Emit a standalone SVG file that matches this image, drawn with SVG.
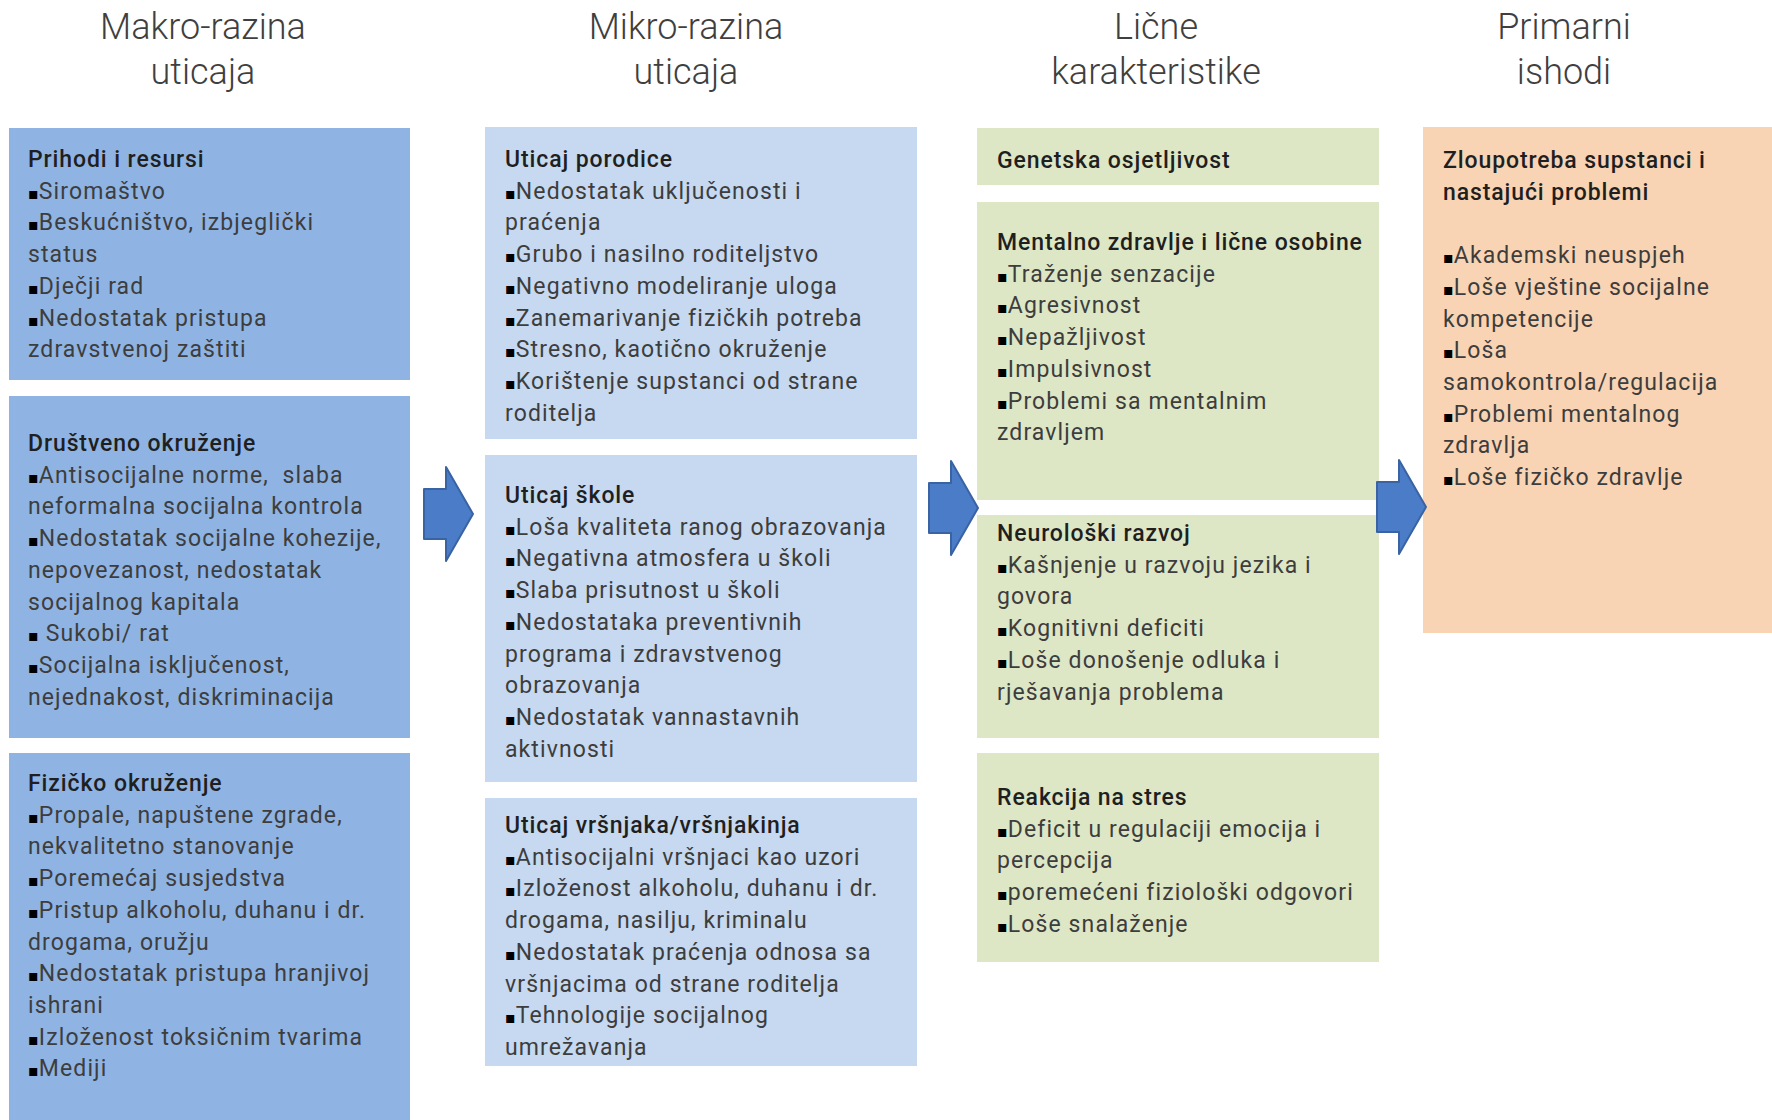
<svg xmlns="http://www.w3.org/2000/svg" width="1772" height="1120" viewBox="0 0 1772 1120">
<style>
.hdr{font-family:Roboto,"Liberation Sans",sans-serif;font-weight:300;font-size:36px;fill:#3f3f3f;text-anchor:middle}
.t{font-family:Roboto,"Liberation Sans",sans-serif;font-size:23px;fill:#3d3d3d;letter-spacing:1.1px}
.h{font-weight:500;fill:#1f1f1f;letter-spacing:0.9px}
.b{fill:#000;font-family:"DejaVu Sans",sans-serif;font-size:16px;letter-spacing:0}
.c1{fill:#8fb4e3}
.c2{fill:#c6d9f0}
.c3{fill:#dde7c6}
.c4{fill:#f9d4b4}
.arr{fill:#4a7cc7;stroke:#3a63a3;stroke-width:2;stroke-linejoin:round}
</style>
<rect width="1772" height="1120" fill="#fff"/>
<g id="headers">
<text class="hdr" x="203" y="39">Makro-razina</text>
<text class="hdr" x="203" y="84">uticaja</text>
<text class="hdr" x="686" y="39">Mikro-razina</text>
<text class="hdr" x="686" y="84">uticaja</text>
<text class="hdr" x="1156" y="39">Lične</text>
<text class="hdr" x="1156" y="84">karakteristike</text>
<text class="hdr" x="1564" y="39">Primarni</text>
<text class="hdr" x="1564" y="84">ishodi</text>
</g>
<g id="prihodi">
<rect class="c1" x="9" y="128" width="401" height="252"/>
<text class="t" x="28" y="167"><tspan class="h">Prihodi i resursi</tspan>
<tspan x="28" dy="31.7"><tspan class="b">▪</tspan>Siromaštvo</tspan>
<tspan x="28" dy="31.7"><tspan class="b">▪</tspan>Beskućništvo, izbjeglički</tspan>
<tspan x="28" dy="31.7">status</tspan>
<tspan x="28" dy="31.7"><tspan class="b">▪</tspan>Dječji rad</tspan>
<tspan x="28" dy="31.7"><tspan class="b">▪</tspan>Nedostatak pristupa</tspan>
<tspan x="28" dy="31.7">zdravstvenoj zaštiti</tspan></text>
</g>
<g id="drustveno">
<rect class="c1" x="9" y="396" width="401" height="342"/>
<text class="t" x="28" y="451"><tspan class="h">Društveno okruženje</tspan>
<tspan x="28" dy="31.7"><tspan class="b">▪</tspan>Antisocijalne norme,&#160; slaba</tspan>
<tspan x="28" dy="31.7">neformalna socijalna kontrola</tspan>
<tspan x="28" dy="31.7"><tspan class="b">▪</tspan>Nedostatak socijalne kohezije,</tspan>
<tspan x="28" dy="31.7">nepovezanost, nedostatak</tspan>
<tspan x="28" dy="31.7">socijalnog kapitala</tspan>
<tspan x="28" dy="31.7"><tspan class="b">▪</tspan> Sukobi/ rat</tspan>
<tspan x="28" dy="31.7"><tspan class="b">▪</tspan>Socijalna isključenost,</tspan>
<tspan x="28" dy="31.7">nejednakost, diskriminacija</tspan></text>
</g>
<g id="fizicko">
<rect class="c1" x="9" y="753" width="401" height="367"/>
<text class="t" x="28" y="791"><tspan class="h">Fizičko okruženje</tspan>
<tspan x="28" dy="31.7"><tspan class="b">▪</tspan>Propale, napuštene zgrade,</tspan>
<tspan x="28" dy="31.7">nekvalitetno stanovanje</tspan>
<tspan x="28" dy="31.7"><tspan class="b">▪</tspan>Poremećaj susjedstva</tspan>
<tspan x="28" dy="31.7"><tspan class="b">▪</tspan>Pristup alkoholu, duhanu i dr.</tspan>
<tspan x="28" dy="31.7">drogama, oružju</tspan>
<tspan x="28" dy="31.7"><tspan class="b">▪</tspan>Nedostatak pristupa hranjivoj</tspan>
<tspan x="28" dy="31.7">ishrani</tspan>
<tspan x="28" dy="31.7"><tspan class="b">▪</tspan>Izloženost toksičnim tvarima</tspan>
<tspan x="28" dy="31.7"><tspan class="b">▪</tspan>Mediji</tspan></text>
</g>
<g id="porodica">
<rect class="c2" x="485" y="127" width="432" height="312"/>
<text class="t" x="505" y="167"><tspan class="h">Uticaj porodice</tspan>
<tspan x="505" dy="31.7"><tspan class="b">▪</tspan>Nedostatak uključenosti i</tspan>
<tspan x="505" dy="31.7">praćenja</tspan>
<tspan x="505" dy="31.7"><tspan class="b">▪</tspan>Grubo i nasilno roditeljstvo</tspan>
<tspan x="505" dy="31.7"><tspan class="b">▪</tspan>Negativno modeliranje uloga</tspan>
<tspan x="505" dy="31.7"><tspan class="b">▪</tspan>Zanemarivanje fizičkih potreba</tspan>
<tspan x="505" dy="31.7"><tspan class="b">▪</tspan>Stresno, kaotično okruženje</tspan>
<tspan x="505" dy="31.7"><tspan class="b">▪</tspan>Korištenje supstanci od strane</tspan>
<tspan x="505" dy="31.7">roditelja</tspan></text>
</g>
<g id="skola">
<rect class="c2" x="485" y="455" width="432" height="327"/>
<text class="t" x="505" y="503"><tspan class="h">Uticaj škole</tspan>
<tspan x="505" dy="31.7"><tspan class="b">▪</tspan>Loša kvaliteta ranog obrazovanja</tspan>
<tspan x="505" dy="31.7"><tspan class="b">▪</tspan>Negativna atmosfera u školi</tspan>
<tspan x="505" dy="31.7"><tspan class="b">▪</tspan>Slaba prisutnost u školi</tspan>
<tspan x="505" dy="31.7"><tspan class="b">▪</tspan>Nedostataka preventivnih</tspan>
<tspan x="505" dy="31.7">programa i zdravstvenog</tspan>
<tspan x="505" dy="31.7">obrazovanja</tspan>
<tspan x="505" dy="31.7"><tspan class="b">▪</tspan>Nedostatak vannastavnih</tspan>
<tspan x="505" dy="31.7">aktivnosti</tspan></text>
</g>
<g id="vrsnjaci">
<rect class="c2" x="485" y="798" width="432" height="268"/>
<text class="t" x="505" y="833"><tspan class="h">Uticaj vršnjaka/vršnjakinja</tspan>
<tspan x="505" dy="31.7"><tspan class="b">▪</tspan>Antisocijalni vršnjaci kao uzori</tspan>
<tspan x="505" dy="31.7"><tspan class="b">▪</tspan>Izloženost alkoholu, duhanu i dr.</tspan>
<tspan x="505" dy="31.7">drogama, nasilju, kriminalu</tspan>
<tspan x="505" dy="31.7"><tspan class="b">▪</tspan>Nedostatak praćenja odnosa sa</tspan>
<tspan x="505" dy="31.7">vršnjacima od strane roditelja</tspan>
<tspan x="505" dy="31.7"><tspan class="b">▪</tspan>Tehnologije socijalnog</tspan>
<tspan x="505" dy="31.7">umrežavanja</tspan></text>
</g>
<g id="genetska">
<rect class="c3" x="977" y="128" width="402" height="57"/>
<text class="t" x="997" y="168"><tspan class="h">Genetska osjetljivost</tspan></text>
</g>
<g id="mentalno">
<rect class="c3" x="977" y="202" width="402" height="298"/>
<text class="t" x="997" y="250"><tspan class="h">Mentalno zdravlje i lične osobine</tspan>
<tspan x="997" dy="31.7"><tspan class="b">▪</tspan>Traženje senzacije</tspan>
<tspan x="997" dy="31.7"><tspan class="b">▪</tspan>Agresivnost</tspan>
<tspan x="997" dy="31.7"><tspan class="b">▪</tspan>Nepažljivost</tspan>
<tspan x="997" dy="31.7"><tspan class="b">▪</tspan>Impulsivnost</tspan>
<tspan x="997" dy="31.7"><tspan class="b">▪</tspan>Problemi sa mentalnim</tspan>
<tspan x="997" dy="31.7">zdravljem</tspan></text>
</g>
<g id="neuroloski">
<rect class="c3" x="977" y="515" width="402" height="223"/>
<text class="t" x="997" y="541"><tspan class="h">Neurološki razvoj</tspan>
<tspan x="997" dy="31.7"><tspan class="b">▪</tspan>Kašnjenje u razvoju jezika i</tspan>
<tspan x="997" dy="31.7">govora</tspan>
<tspan x="997" dy="31.7"><tspan class="b">▪</tspan>Kognitivni deficiti</tspan>
<tspan x="997" dy="31.7"><tspan class="b">▪</tspan>Loše donošenje odluka i</tspan>
<tspan x="997" dy="31.7">rješavanja problema</tspan></text>
</g>
<g id="stres">
<rect class="c3" x="977" y="753" width="402" height="209"/>
<text class="t" x="997" y="805"><tspan class="h">Reakcija na stres</tspan>
<tspan x="997" dy="31.7"><tspan class="b">▪</tspan>Deficit u regulaciji emocija i</tspan>
<tspan x="997" dy="31.7">percepcija</tspan>
<tspan x="997" dy="31.7"><tspan class="b">▪</tspan>poremećeni fiziološki odgovori</tspan>
<tspan x="997" dy="31.7"><tspan class="b">▪</tspan>Loše snalaženje</tspan></text>
</g>
<g id="ishodi">
<rect class="c4" x="1423" y="127" width="349" height="506"/>
<text class="t" x="1443" y="168"><tspan class="h">Zloupotreba supstanci i</tspan>
<tspan x="1443" dy="31.7" class="h">nastajući problemi</tspan>
<tspan x="1443" dy="63.4"><tspan class="b">▪</tspan>Akademski neuspjeh</tspan>
<tspan x="1443" dy="31.7"><tspan class="b">▪</tspan>Loše vještine socijalne</tspan>
<tspan x="1443" dy="31.7">kompetencije</tspan>
<tspan x="1443" dy="31.7"><tspan class="b">▪</tspan>Loša</tspan>
<tspan x="1443" dy="31.7">samokontrola/regulacija</tspan>
<tspan x="1443" dy="31.7"><tspan class="b">▪</tspan>Problemi mentalnog</tspan>
<tspan x="1443" dy="31.7">zdravlja</tspan>
<tspan x="1443" dy="31.7"><tspan class="b">▪</tspan>Loše fizičko zdravlje</tspan></text>
</g>
<g id="connectors">
<path class="arr" d="M424,489 H446 V467 L473,514 L446,561 V539 H424 Z"/>
<path class="arr" d="M929,483 H951 V461 L978,508 L951,555 V533 H929 Z"/>
<path class="arr" d="M1377,482 H1399 V460 L1426,507 L1399,554 V532 H1377 Z"/>
</g>
</svg>
